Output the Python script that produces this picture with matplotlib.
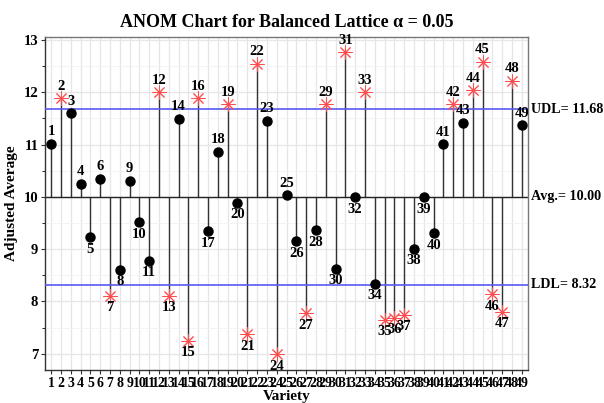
import matplotlib
matplotlib.use("Agg")
import matplotlib.pyplot as plt
import numpy as np

varieties = list(range(1, 50))
adj_avg = [11.02, 11.89, 11.60, 10.25, 9.23, 10.35, 8.11, 8.61, 10.31, 9.52,
           8.78, 12.00, 8.11, 11.49, 7.25, 11.89, 9.34, 10.86, 11.77, 9.89,
           7.37, 12.55, 11.46, 6.99, 10.03, 9.15, 7.78, 9.36, 11.77, 8.63,
           12.77, 9.99, 12.00, 8.34, 7.65, 7.69, 7.75, 9.01, 9.99, 9.31,
           11.01, 11.77, 11.42, 12.04, 12.58, 8.14, 7.80, 12.22, 11.37]
avg = 10.00
udl = 11.68
ldl = 8.32
title = "ANOM Chart for Balanced Lattice \u03b1 = 0.05"

plt.rcParams['font.family'] = ['Liberation Serif', 'DejaVu Serif']
plt.rcParams['font.weight'] = 'bold'

fig = plt.figure(figsize=(6.04, 4.03), dpi=100)
ax = fig.add_axes([0.075, 0.082, 0.7987, 0.827])

x = np.array(varieties)
y = np.array(adj_avg)

ax.set_xlim(0.4, 49.6)
ax.set_ylim(6.69, 13.065)
ax.set_xticks(x)
ax.set_yticks([7, 8, 9, 10, 11, 12, 13])
ax.set_yticks(np.arange(7.5, 13, 1.0), minor=True)
ax.grid(True, which='major', color='#e6e6e6', lw=0.9, zorder=0)
ax.grid(True, which='minor', axis='y', color='#f2f2f2', lw=0.6, zorder=0)

ax.vlines(x, avg, y, colors='#333333', lw=1.0, zorder=2)
ax.axhline(avg, color='#222222', lw=1.0, zorder=2)
ax.axhline(udl, color='#5a5af2', lw=1.2, zorder=3)
ax.axhline(ldl, color='#5a5af2', lw=1.2, zorder=3)

out = (y > udl) | (y < ldl)
ax.plot(x[~out], y[~out], 'o', color='black', ms=6.5, zorder=4, ls='none')
ax.plot(x[out], y[out], ls='none', marker=(8, 2, 0), color='#ff4d4d', ms=10,
        mew=0.7, zorder=4)

for xi, yi in zip(x, y):
    if yi >= avg:
        ax.annotate(str(xi), (xi, yi), xytext=(0, 4), textcoords='offset points',
                    ha='center', va='bottom', fontsize=10.5, fontweight='bold', zorder=5)
    else:
        ax.annotate(str(xi), (xi, yi), xytext=(0, -4), textcoords='offset points',
                    ha='center', va='top', fontsize=10.5, fontweight='bold', zorder=5)

trans = ax.get_yaxis_transform()
for val, lab in [(udl, f"UDL= {udl:.2f}"), (avg, f"Avg.= {avg:.2f}"), (ldl, f"LDL= {ldl:.2f}")]:
    ax.text(1.006, val, lab, transform=trans, ha='left', va='center',
            fontsize=10.2, fontweight='bold', clip_on=False)

ax.set_xticklabels([str(v) for v in varieties], fontsize=10, fontweight='bold')
ax.tick_params(axis='y', labelsize=10.5, length=3, color='#333333', pad=2)
ax.tick_params(axis='x', length=3, color='#333333', pad=2)
for lab in ax.get_yticklabels():
    lab.set_fontweight('bold')

for s in ['left', 'bottom']:
    ax.spines[s].set_color('#333333')
    ax.spines[s].set_linewidth(1.0)
for s in ['top', 'right']:
    ax.spines[s].set_color('#777777')
    ax.spines[s].set_linewidth(1.0)

ax.set_xlabel("Variety", fontsize=11, fontweight='bold', labelpad=0)
ax.set_ylabel("Adjusted Average", fontsize=11, fontweight='bold', labelpad=4)
ax.set_title(title, fontsize=13, fontweight='bold', pad=7)

fig.savefig("out.png", dpi=100)
